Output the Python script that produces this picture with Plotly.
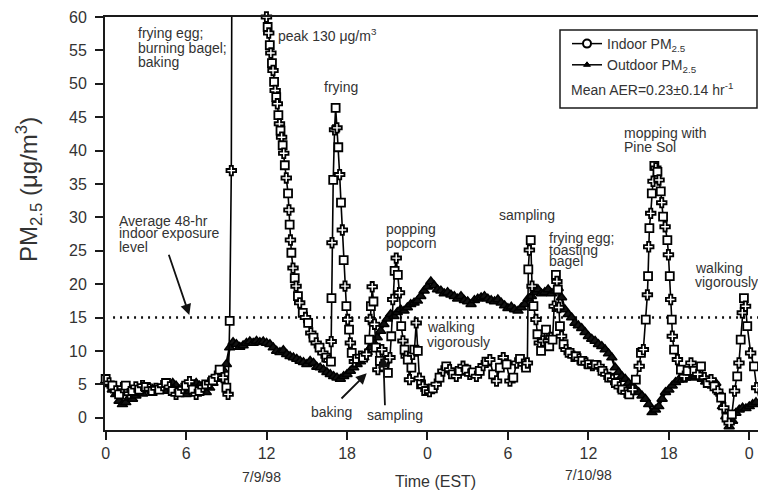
import plotly.graph_objects as go

# ---------------- data ----------------
AVG_LEVEL = 15.0

OUT_T = [i * 0.25 for i in range(195)]
OUT_V = [
    5.5, 5.0, 4.2, 3.5,   2.5, 2.0, 2.3, 3.0,   2.8, 3.3, 3.8, 3.6,
    4.2, 4.5, 4.3, 4.0,   4.2, 4.4, 4.0, 4.6,   5.2, 4.8, 4.2, 3.8,
    3.5, 4.0, 4.6, 5.2,   4.8, 4.2, 3.8, 4.5,   5.2, 5.8, 6.5, 7.2,
    8.0, 10.5, 11.3, 11.0,  10.6, 10.8, 11.2, 11.4,  11.2, 11.5, 11.3, 11.4,
    11.2, 11.0, 10.5, 10.0,  9.8, 10.1, 9.5, 9.2,   9.0, 8.8, 8.5, 8.3,
    8.0, 8.5, 8.2, 7.6,   7.5, 7.2, 6.8, 6.5,   6.2, 6.0, 5.8, 6.2,
    6.5, 7.0, 7.5, 8.0,   8.4, 9.0, 9.8, 10.5,  11.2, 12.0, 13.0, 14.0,
    14.8, 15.5, 15.2, 15.8,  16.2, 16.0, 16.5, 17.0,  17.2, 17.5, 18.2, 19.0,
    19.6, 20.4, 19.8, 19.2,  19.0, 18.6, 18.8, 18.4,  18.2, 17.8, 18.2, 17.6,
    17.4, 17.0, 17.6, 17.8,  18.0, 18.2, 17.8, 17.6,  17.4, 17.7, 17.2, 16.8,
    16.4, 16.6, 16.2, 16.0,  16.5, 17.0, 17.8, 18.2,  18.8, 19.2, 18.6, 18.8,
    19.2, 18.6, 19.0, 19.4,  18.0, 16.2, 15.5, 15.0,  14.2, 13.8, 13.4, 12.8,
    12.2, 11.8, 11.5, 11.0,  10.7, 10.2, 9.6, 9.0,   7.5, 6.8, 6.2, 5.8,
    5.2, 4.8, 4.3, 3.8,   3.3, 2.8, 2.0, 0.8,   1.2, 1.7, 2.8, 3.8,
    4.2, 4.8, 5.3, 5.7,   5.7, 6.0, 6.4, 6.0,   6.2, 6.5, 5.8, 5.4,
    5.2, 4.8, 5.2, 3.8,   1.7, 0.2, -1.3, -0.5,  0.7, 1.2, 1.5, 1.4,
    1.7, 2.0, 2.3,
]

IN_T = [
    0.00, 0.25, 0.50, 0.75, 1.00, 1.25, 1.50, 1.75, 2.00, 2.25, 2.50, 2.75,
    3.00, 3.25, 3.50, 3.75, 4.00, 4.25, 4.50, 4.75, 5.00, 5.25, 5.50, 5.75,
    6.00, 6.25, 6.50, 6.75, 7.00, 7.25, 7.50, 7.75, 8.00, 8.25, 8.50, 8.75,
    9.00, 9.13, 9.25, 9.37, 9.45, 9.60, 9.80, 10.10, 10.50, 11.00, 11.50, 11.99,
    12.08, 12.16, 12.24, 12.32, 12.40, 12.48, 12.56, 12.64, 12.72, 12.80, 12.88, 12.96,
    13.04, 13.12, 13.20, 13.28, 13.36, 13.47, 13.60, 13.67, 13.72, 13.78, 13.85, 13.97,
    14.10, 14.20, 14.34, 14.47, 14.70, 14.90, 15.10, 15.30, 15.50, 15.70, 15.95, 16.20,
    16.45, 16.65, 16.80, 16.82, 16.84, 16.88, 16.97, 17.07, 17.15, 17.25, 17.35, 17.45,
    17.55, 17.65, 17.75, 17.85, 17.95, 18.05, 18.15, 18.25, 18.35, 18.55, 18.75, 19.00,
    19.20, 19.45, 19.65, 19.72, 19.78, 19.88, 19.97, 20.05, 20.15, 20.30, 20.45, 20.60,
    20.75, 20.90, 21.05, 21.20, 21.30, 21.41, 21.55, 21.67, 21.79, 21.91, 22.04, 22.17,
    22.29, 22.41, 22.53, 22.66, 22.80, 22.90, 23.03, 23.16, 23.28, 23.40, 23.52, 23.65,
    23.90, 24.15, 24.40, 24.65, 24.90, 25.15, 25.40, 25.65, 25.90, 26.15, 26.40, 26.65,
    26.90, 27.15, 27.40, 27.65, 27.90, 28.15, 28.40, 28.65, 28.90, 29.15, 29.40, 29.65,
    29.90, 30.15, 30.40, 30.65, 30.90, 31.15, 31.35, 31.45, 31.52, 31.60, 31.70, 31.80,
    31.90, 32.09, 32.20, 32.34, 32.47, 32.60, 32.84, 33.00, 33.08, 33.20, 33.33, 33.45,
    33.58, 33.65, 33.72, 33.80, 33.88, 34.00, 34.15, 34.33, 34.60, 34.85, 35.07, 35.30,
    35.55, 35.82, 36.05, 36.30, 36.55, 36.80, 37.05, 37.30, 37.55, 37.80, 38.05, 38.30,
    38.54, 38.80, 39.05, 39.30, 39.54, 39.79, 39.92, 40.10, 40.28, 40.40, 40.45, 40.50,
    40.55, 40.65, 40.73, 40.82, 40.92, 41.03, 41.15, 41.27, 41.40, 41.47, 41.57, 41.72,
    41.89, 41.97, 42.07, 42.14, 42.22, 42.26, 42.39, 42.64, 42.90, 43.15, 43.40, 43.65,
    43.90, 44.15, 44.40, 44.65, 44.90, 45.15, 45.40, 45.65, 45.90, 46.10, 46.30, 46.50,
    46.70, 46.90, 47.10, 47.23, 47.36, 47.48, 47.60, 47.72, 47.85, 48.10, 48.35, 48.55,
    48.70,
]
IN_V = [
    5.8, 5.2, 4.8, 4.0, 3.5, 4.5, 4.8, 3.6, 4.0, 4.6, 4.2, 4.8,
    4.6, 4.3, 4.0, 4.4, 4.2, 4.8, 5.2, 4.6, 4.0, 3.5, 3.8, 4.4,
    4.8, 5.4, 4.2, 3.5, 4.0, 4.6, 5.0, 5.2, 5.6, 6.2, 7.2, 6.0,
    4.5, 3.5, 14.5, 37.0, 95.0, 125.0, 130.0, 122.0, 108.0, 88.0, 72.0, 60.0,
    58.5, 57.6, 55.8, 54.6, 53.1, 52.0, 50.3, 49.0, 48.0, 47.0, 45.3, 44.0,
    43.0, 42.0, 40.8, 39.6, 37.8, 35.9, 33.6, 31.1, 28.9, 26.6, 24.7, 22.4,
    20.9, 19.7, 18.2, 17.2, 15.7, 15.0, 14.2, 12.7, 12.0, 11.2, 10.5, 9.7,
    9.0, 8.6, 8.4, 11.4, 17.9, 26.2, 35.6, 43.1, 46.4, 43.4, 40.5, 36.4,
    32.2, 28.1, 23.6, 19.7, 16.7, 14.7, 13.2, 11.2, 9.7, 8.4, 8.8, 9.2,
    9.0, 9.5, 11.7, 14.7, 16.7, 19.6, 17.4, 14.0, 10.5, 7.2, 8.5, 10.2,
    7.7, 8.5, 6.7, 9.0, 12.2, 17.7, 22.0, 23.9, 21.4, 18.7, 13.7, 11.5,
    10.2, 9.2, 8.7, 5.7, 7.5, 9.5, 10.2, 14.2, 10.0, 5.9, 5.0, 4.7,
    4.0, 3.9, 4.4, 5.0, 6.0, 7.0, 7.7, 7.2, 6.5, 6.2, 7.0, 7.7,
    7.2, 6.5, 6.8, 6.2, 7.0, 7.8, 8.4, 8.7, 6.5, 5.5, 7.5, 9.0,
    8.0, 5.5, 6.0, 8.2, 8.8, 8.0, 7.5, 8.2, 22.2, 25.1, 26.6, 19.7,
    16.7, 14.7, 12.5, 11.2, 10.0, 11.5, 13.2, 11.5, 10.7, 12.0, 11.7, 16.7,
    21.4, 20.4, 19.2, 16.5, 13.7, 12.2, 11.0, 10.2, 9.7, 9.2, 9.2, 8.8,
    8.5, 8.2, 8.0, 7.8, 7.9, 7.7, 7.0, 6.5, 6.0, 5.7, 5.2, 4.6,
    4.2, 3.8, 3.5, 4.2, 5.7, 7.7, 9.7, 10.2, 14.7, 18.4, 21.2, 25.6,
    28.4, 30.6, 33.6, 35.4, 37.7, 37.4, 36.8, 35.6, 33.9, 32.2, 30.1, 28.6,
    26.6, 24.4, 21.2, 17.7, 14.7, 12.2, 10.2, 8.7, 7.2, 6.2, 7.0, 8.2,
    7.0, 6.5, 7.7, 6.0, 5.2, 5.7, 4.7, 4.0, 3.0, 1.5, 0.0, -0.8,
    0.5, 4.0, 6.2, 8.2, 11.7, 15.7, 17.9, 16.7, 13.7, 9.7, 7.7, 4.5,
    3.2,
]

X_TICKS = [0, 6, 12, 18, 24, 30, 36, 42, 48]
X_TICKTEXT = ["0", "6", "12", "18", "0", "6", "12", "18", "0"]
Y_TICKS = list(range(0, 61, 5))

# ---------------- layout helpers ----------------
W, H = 758, 493
L, R, T, B = 105, 0, 17, 63
PW, PH = W - L - R, H - T - B
FONT = "Liberation Sans, Arial, sans-serif"
TXT = "#333333"
AX = "#1a1a1a"


def px(x):
    return (x - L) / PW


def py(y):
    return (H - B - y) / PH


fig = go.Figure()

# average exposure level (dotted)
fig.add_trace(go.Scatter(
    x=[0.55, 48.7], y=[AVG_LEVEL, AVG_LEVEL], mode="lines",
    line=dict(color="#111", width=2.5, dash="2px,5px"),
    showlegend=False, hoverinfo="skip"))

# outdoor
fig.add_trace(go.Scatter(
    x=OUT_T, y=OUT_V, mode="lines+markers", cliponaxis=False,
    line=dict(color="black", width=2.5),
    marker=dict(symbol="triangle-up", size=9, color="#111",
                line=dict(color="black", width=1.5)),
    showlegend=False, hoverinfo="skip"))

# indoor
in_symbols = ["square" if i % 2 == 0 else "cross" for i in range(len(IN_T))]
fig.add_trace(go.Scatter(
    x=IN_T, y=IN_V, mode="lines+markers", cliponaxis=False,
    line=dict(color="black", width=1.6),
    marker=dict(symbol=in_symbols, size=8, color="white",
                line=dict(color="black", width=1.8)),
    showlegend=False, hoverinfo="skip"))

# legend entries
fig.add_trace(go.Scatter(
    x=[None], y=[None], mode="lines+markers", name="Indoor PM<sub>2.5</sub>",
    line=dict(color="black", width=1.5),
    marker=dict(symbol="circle", size=8, color="white",
                line=dict(color="black", width=2))))
fig.add_trace(go.Scatter(
    x=[None], y=[None], mode="lines+markers", name="Outdoor PM<sub>2.5</sub>",
    line=dict(color="black", width=1.5),
    marker=dict(symbol="triangle-up", size=6, color="black",
                line=dict(color="black", width=1))))

ann = []


def label(text, x, y, size=14, anchor="left"):
    ann.append(dict(text=text, x=px(x), y=py(y), xref="paper", yref="paper",
                    xanchor=anchor, yanchor="middle", showarrow=False,
                    font=dict(family=FONT, size=size, color=TXT)))


label("frying egg;", 136, 33)
label("burning bagel;", 136, 47.5)
label("baking", 136, 61.5)
label("peak 130 μg/m<sup>3</sup>", 276, 34.5)
label("frying", 322, 87)
label("popping", 384, 229)
label("popcorn", 384, 243)
label("walking", 425, 327)
label("vigorously", 425, 342)
label("baking", 309, 411.5)
label("sampling", 365, 415)
label("sampling", 497, 215)
label("frying egg;", 546.7, 237.5)
label("toasting", 546.7, 249.5)
label("bagel", 546.7, 261)
label("mopping with", 621.7, 133)
label("Pine Sol", 621.7, 146.7)
label("walking", 693.3, 268.3)
label("vigorously", 693.3, 281.7)
label("Average 48-hr", 117.3, 221)
label("indoor exposure", 117.3, 233.3)
label("level", 117.3, 246.7)
label("Mean AER=0.23±0.14 hr<sup>-1</sup>", 569, 88.5)
label("7/9/98", 261.7, 476.5, size=14, anchor="center")
label("7/10/98", 588.3, 475, size=14, anchor="center")
label("Time (EST)", 435, 481, size=16, anchor="center")

ann.append(dict(text="PM<sub>2.5</sub> (μg/m<sup>3</sup>)", textangle=-90,
                x=px(29), y=py(190), xref="paper", yref="paper",
                xanchor="center", yanchor="middle", showarrow=False,
                font=dict(family=FONT, size=24, color=TXT)))


def arrow(tip, tail):
    ann.append(dict(text="", x=px(tip[0]), y=py(tip[1]), xref="paper", yref="paper",
                    ax=tail[0] - tip[0], ay=tail[1] - tip[1], showarrow=True,
                    arrowhead=2, arrowsize=1.2, arrowwidth=1.8, arrowcolor="#111"))


arrow((189.3, 315), (168.3, 253.3))
arrow((366.7, 373.3), (340, 400))
arrow((383.3, 356.7), (385, 406.7))

fig.update_layout(
    width=W, height=H,
    margin=dict(l=L, r=R, t=T, b=B),
    paper_bgcolor="white", plot_bgcolor="white",
    font=dict(family=FONT, color=TXT),
    annotations=ann,
    shapes=[dict(type="rect", xref="paper", yref="paper",
                 x0=px(560), x1=px(757), y0=py(108), y1=py(30),
                 line=dict(color=AX, width=1.5), fillcolor="rgba(0,0,0,0)")],
    legend=dict(x=px(567), y=py(28), xanchor="left", yanchor="top",
                bgcolor="rgba(0,0,0,0)", borderwidth=0,
                font=dict(family=FONT, size=14, color=TXT),
                tracegroupgap=0, itemwidth=30),
    xaxis=dict(range=[-0.05, 48.65], tickvals=X_TICKS, ticktext=X_TICKTEXT,
               showline=True, linecolor=AX, linewidth=2, mirror=True,
               ticks="outside", ticklen=8, tickwidth=2, tickcolor=AX,
               tickfont=dict(family=FONT, size=16, color=TXT),
               showgrid=False, zeroline=False),
    yaxis=dict(range=[-1.84, 60], tickvals=Y_TICKS,
               showline=True, linecolor=AX, linewidth=2,
               ticks="outside", ticklen=8, tickwidth=2, tickcolor=AX,
               ticklabelstandoff=5,
               tickfont=dict(family=FONT, size=16, color=TXT),
               showgrid=False, zeroline=False),
)

fig.write_html("out.html")
